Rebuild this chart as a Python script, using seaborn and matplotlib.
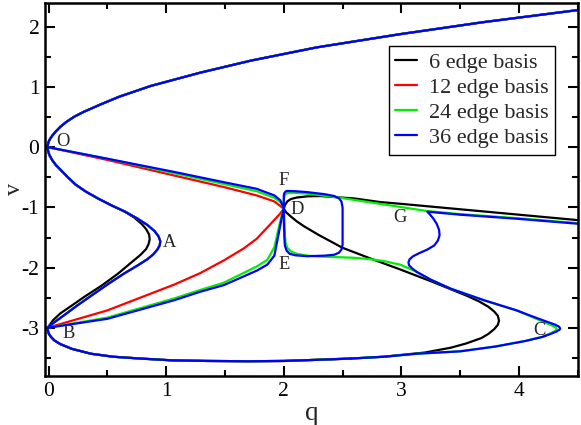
import matplotlib
matplotlib.use("Agg")
import matplotlib.pyplot as plt
import seaborn as sns
from matplotlib.ticker import MultipleLocator

sns.set_theme(style="ticks")
plt.rcParams['font.family'] = ['Liberation Serif', 'DejaVu Serif']
plt.rcParams['axes.unicode_minus'] = False

# ---- data (q, v) ----
# upper parabola through O and down towards A (shared by all bases)
outer_q = [4.5, 3.7, 2.99, 2.28, 1.72, 1.29, 0.87, 0.6, 0.44, 0.3, 0.22, 0.15, 0.1, 0.06, 0.03, 0.01, 0.0, -0.005, -0.01,
           -0.005, 0.0, 0.01, 0.03, 0.06, 0.1, 0.16, 0.23, 0.32, 0.42, 0.53, 0.65, 0.76]
outer_v = [2.28, 2.08, 1.88, 1.66, 1.44, 1.24, 1.02, 0.84, 0.71, 0.59, 0.51, 0.42, 0.34, 0.26, 0.19, 0.13, 0.09, 0.05, 0.0,
           -0.05, -0.09, -0.14, -0.21, -0.29, -0.37, -0.49, -0.62, -0.74, -0.85, -0.96, -1.07, -1.19]

# turning point A, back to B
blueA_q = [0.76, 0.84, 0.90, 0.935, 0.95, 0.945, 0.925, 0.89, 0.84, 0.76, 0.64, 0.50, 0.36, 0.25, 0.16, 0.09, 0.04, 0.01, -0.01]
blueA_v = [-1.19, -1.29, -1.39, -1.48, -1.56, -1.63, -1.70, -1.78, -1.86, -1.96, -2.10, -2.28, -2.47, -2.62, -2.75, -2.85, -2.92, -2.97, -3.0]
blackA_q = [0.65, 0.73, 0.79, 0.83, 0.855, 0.86, 0.85, 0.83, 0.78, 0.70, 0.59, 0.45, 0.30, 0.19, 0.10, 0.04, 0.01, -0.01]
blackA_v = [-1.07, -1.17, -1.27, -1.36, -1.45, -1.53, -1.61, -1.69, -1.79, -1.92, -2.10, -2.30, -2.49, -2.64, -2.76, -2.87, -2.95, -3.0]

# lower parabola from B (shared part)
lower_q = [-0.01, -0.005, 0.0, 0.02, 0.05, 0.10, 0.2, 0.36, 0.55, 0.78, 1.05, 1.35, 1.7, 2.0, 2.3, 2.57]
lower_v = [-3.0, -3.05, -3.09, -3.15, -3.21, -3.27, -3.35, -3.43, -3.48, -3.51, -3.54, -3.55, -3.555, -3.55, -3.53, -3.51]

# 36 edge: around C, S-shaped part and branch through G
blueC_q = [2.57, 2.85, 3.13, 3.5, 3.8, 4.05, 4.2, 4.27, 4.32, 4.345, 4.35, 4.34, 4.31, 4.24, 4.1, 3.98, 3.70, 3.42, 3.25,
           3.13, 3.09, 3.065, 3.06, 3.07, 3.1, 3.15, 3.22, 3.28, 3.31, 3.325, 3.32, 3.30, 3.27, 3.24, 3.22,
           3.5, 4.0, 4.5]
blueC_v = [-3.51, -3.48, -3.43, -3.39, -3.31, -3.22, -3.15, -3.10, -3.06, -3.03, -3.01, -2.98, -2.95, -2.9, -2.8, -2.71, -2.54, -2.35, -2.2,
           -2.07, -2.01, -1.96, -1.91, -1.86, -1.81, -1.76, -1.70, -1.63, -1.55, -1.46, -1.37, -1.27, -1.18, -1.11, -1.07,
           -1.12, -1.19, -1.27]
greenC_q = [2.57, 2.85, 3.13, 3.5, 3.8, 4.05, 4.2, 4.26, 4.3, 4.315, 4.32, 4.31, 4.28, 4.22, 4.1, 3.98, 3.70, 3.42, 3.25,
            3.13, 3.05, 2.99, 2.92, 2.85, 2.74, 2.59, 2.45, 2.31, 2.2, 2.11, 2.06, 2.03, 2.015, 2.01, 2.005, 2.0]
greenC_v = [-3.51, -3.48, -3.43, -3.39, -3.31, -3.22, -3.15, -3.10, -3.06, -3.04, -3.02, -2.99, -2.96, -2.91, -2.81, -2.71, -2.54, -2.35, -2.2,
            -2.07, -2.0, -1.95, -1.92, -1.89, -1.86, -1.835, -1.825, -1.815, -1.80, -1.77, -1.73, -1.67, -1.59, -1.47, -1.2, -1.02]
blackC_q = [2.57, 2.85, 3.2, 3.42, 3.55, 3.68, 3.74, 3.79, 3.82, 3.83, 3.82, 3.79, 3.74, 3.66, 3.56, 3.27, 2.99, 2.74,
            2.5, 2.3, 2.17, 2.11, 2.06, 2.02, 2.0]
blackC_v = [-3.51, -3.48, -3.41, -3.33, -3.26, -3.17, -3.10, -3.02, -2.95, -2.88, -2.80, -2.73, -2.65, -2.56, -2.47, -2.24, -2.03, -1.85,
            -1.67, -1.46, -1.31, -1.23, -1.15, -1.08, -1.02]

# branch from D to the right (upper)
blackR_q = [2.0, 2.01, 2.03, 2.06, 2.11, 2.2, 2.31, 2.6, 2.82, 3.0, 3.5, 4.0, 4.5]
blackR_v = [-1.02, -0.96, -0.9, -0.86, -0.835, -0.815, -0.81, -0.85, -0.91, -0.94, -1.03, -1.12, -1.21]
greenR_q = [2.0, 2.0, 2.005, 2.015, 2.035, 2.08, 2.2, 2.45, 2.82, 3.22, 3.5, 4.0, 4.5]
greenR_v = [-1.02, -0.88, -0.81, -0.775, -0.76, -0.755, -0.77, -0.83, -0.94, -1.06, -1.11, -1.18, -1.26]
# 36 edge closed loop right of D
loop_q = [2.0, 2.0, 2.0, 2.005, 2.015, 2.03, 2.1, 2.2, 2.35, 2.43, 2.47, 2.49, 2.5, 2.5, 2.5, 2.49, 2.47, 2.43, 2.35,
          2.2, 2.1, 2.05, 2.025, 2.01, 2.005, 2.0, 2.0]
loop_v = [-1.02, -0.9, -0.8, -0.76, -0.735, -0.725, -0.73, -0.745, -0.78, -0.81, -0.85, -0.9, -1.0, -1.3, -1.62, -1.70, -1.75, -1.785, -1.80,
          -1.81, -1.795, -1.77, -1.72, -1.64, -1.5, -1.2, -1.02]

# line O -> D
blueO_q = [0.0, 0.5, 1.07, 1.49, 1.77, 1.92, 1.97, 2.0]
blueO_v = [0.0, -0.19, -0.41, -0.58, -0.69, -0.80, -0.88, -1.0]
greenO_q = [0.0, 0.5, 1.07, 1.49, 1.77, 1.92, 1.97, 2.0]
greenO_v = [0.0, -0.19, -0.43, -0.61, -0.73, -0.84, -0.91, -1.0]
redO_q = [0.0, 0.5, 1.07, 1.49, 1.77, 1.92, 2.0]
redO_v = [0.0, -0.21, -0.47, -0.66, -0.80, -0.90, -1.02]

# line B -> D
blueB_q = [-0.01, 0.5, 1.07, 1.29, 1.49, 1.77, 1.86, 1.92, 1.95, 1.98, 2.0]
blueB_v = [-3.0, -2.85, -2.54, -2.40, -2.29, -2.05, -1.95, -1.80, -1.5, -1.2, -1.02]
greenB_q = [-0.01, 0.5, 1.07, 1.29, 1.49, 1.77, 1.86, 1.92, 1.95, 1.98, 2.0]
greenB_v = [-3.0, -2.83, -2.51, -2.37, -2.25, -1.98, -1.87, -1.66, -1.40, -1.15, -1.02]
redB_q = [-0.01, 0.5, 1.07, 1.29, 1.49, 1.66, 1.77, 1.89, 1.97, 2.0]
redB_v = [-3.0, -2.71, -2.28, -2.09, -1.88, -1.68, -1.52, -1.27, -1.10, -1.02]

labels = ["6 edge basis", "12 edge basis", "24 edge basis", "36 edge basis"]
colors = ["black", "#ff0000", "#00ee00", "#0000ff"]

series = {
    "6 edge basis": [(outer_q, outer_v), (blackA_q, blackA_v), (lower_q, lower_v),
                     (blackC_q, blackC_v), (blackR_q, blackR_v)],
    "12 edge basis": [(outer_q, outer_v), (blueA_q, blueA_v), (lower_q, lower_v),
                      (redO_q, redO_v), (redB_q, redB_v)],
    "24 edge basis": [(outer_q, outer_v), (blueA_q, blueA_v), (lower_q, lower_v),
                      (greenC_q, greenC_v), (greenR_q, greenR_v), (greenO_q, greenO_v), (greenB_q, greenB_v)],
    "36 edge basis": [(outer_q, outer_v), (blueA_q, blueA_v), (lower_q, lower_v),
                      (blueC_q, blueC_v), (loop_q, loop_v), (blueO_q, blueO_v), (blueB_q, blueB_v)],
}

point_names = ["O", "A", "B", "C", "D", "E", "F", "G"]
point_q = [0.12, 1.03, 0.17, 4.17, 2.11, 2.0, 2.0, 2.99]
point_v = [0.1, -1.58, -3.1, -3.04, -1.03, -1.94, -0.56, -1.16]

fig = plt.figure(figsize=(5.81, 4.25), dpi=100)
ax = fig.add_axes([0.0775, 0.1153, 0.917, 0.878])

for lab, col in zip(labels, colors):
    for i, (qq, vv) in enumerate(series[lab]):
        sns.lineplot(x=qq, y=vv, sort=False, estimator=None, color=col, lw=1.6,
                     ax=ax, legend=False)

for n, qq, vv in zip(point_names, point_q, point_v):
    ax.text(qq, vv, n, fontsize=13.3, ha="center", va="center")

ax.set_xlim(-0.03, 4.5)
ax.set_ylim(-3.8, 2.4)
ax.xaxis.set_major_locator(MultipleLocator(1))
ax.xaxis.set_minor_locator(MultipleLocator(0.5))
ax.yaxis.set_major_locator(MultipleLocator(1))
ax.yaxis.set_minor_locator(MultipleLocator(0.5))
ax.tick_params(which="both", direction="in", top=True, right=True, width=1.5, labelsize=15.5, colors="black")
ax.tick_params(which="major", length=7, pad=4)
ax.tick_params(which="minor", length=4)
for s in ax.spines.values():
    s.set_linewidth(1.8)
    s.set_color("black")
ax.set_xlabel("q", fontsize=19.5, labelpad=0)
fig.text(14 / 581, 0.555, "v", fontsize=17.5, rotation=90, ha="center", va="center")

handles = [plt.Line2D([], [], color=c, lw=1.6) for c in colors]
leg = ax.legend(handles, labels, loc="upper right", bbox_to_anchor=(0.957, 0.885), borderaxespad=0,
                fontsize=16, frameon=True, fancybox=False, framealpha=1, edgecolor="black",
                handlelength=1.0, handletextpad=0.5, borderpad=0.3, labelspacing=0.2)
leg.get_frame().set_linewidth(1.0)

fig.savefig("out.png", dpi=100)
